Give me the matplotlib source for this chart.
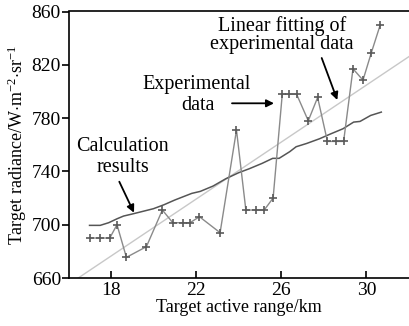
import matplotlib
matplotlib.use("Agg")
import matplotlib.pyplot as plt
import numpy as np

plt.rcParams['font.family'] = ['Liberation Serif', 'DejaVu Serif']
plt.rcParams['mathtext.fontset'] = 'custom'
plt.rcParams['mathtext.rm'] = 'Liberation Serif'
plt.rcParams['mathtext.it'] = 'Liberation Serif:italic'

# Experimental data
exp_range = [17.02, 17.49, 17.95, 18.29, 18.73, 19.67, 20.42, 20.91, 21.38, 21.72,
             22.16, 23.13, 23.90, 24.34, 24.81, 25.20, 25.62, 26.05, 26.36, 26.72,
             27.27, 27.71, 28.17, 28.55, 28.93, 29.37, 29.84, 30.23, 30.65]
exp_rad = [690, 690, 690, 700, 675.5, 683.5, 711, 701.5, 701.5, 701.5,
           706, 694, 771, 711, 711, 711, 720, 798, 798, 798,
           778, 795.5, 762.5, 762.5, 762.5, 817, 808.5, 829, 850]

# Calculation results
calc_range = [17.0, 17.5, 17.9, 18.3, 18.6, 19.0, 19.5, 20.0, 20.5, 21.0, 21.4, 21.8,
              22.2, 22.8, 23.4, 24.0, 24.5, 25.1, 25.6, 25.9, 26.4, 26.7, 27.2, 27.8,
              28.3, 28.9, 29.4, 29.7, 30.2, 30.7]
calc_rad = [699.5, 699.5, 701.5, 704.5, 706.5, 708, 710, 712, 715, 718.5, 721, 723.5,
            725, 729, 734.5, 739, 742, 746, 749.8, 749.8, 754.8, 758.5, 761, 764.5,
            768, 772, 777, 777.5, 782, 784.5]

# Linear fitting line (slope, intercept)
fit_slope = 10.7
fit_intercept = 660 - 10.7 * 16.47
fit_range = [16.0, 32.0]

xticks = [18, 22, 26, 30]
yticks = [660, 700, 740, 780, 820, 860]

W, H = 409, 326
fig = plt.figure(figsize=(W / 100, H / 100), dpi=100)
ax = fig.add_axes([69.3 / W, 1 - 278 / H, (409 - 69.3) / W, (278 - 11.5) / H])

fx = np.array(fit_range)
ax.plot(fx, fit_slope * fx + fit_intercept, color='#c8c8c8', lw=1.0, zorder=1)
ax.plot(calc_range, calc_rad, color='#555555', lw=1.1, zorder=2)
ax.plot(exp_range, exp_rad, color='#8a8a8a', lw=1.0, marker='+', ms=5.5,
        mew=1.2, mec='#5a5a5a', zorder=3)

ax.set_xlim(16.05, 32.0)
ax.set_ylim(660, 860)
ax.set_xticks(xticks)
ax.set_yticks(yticks)
ax.spines['right'].set_visible(False)
for s in ax.spines.values():
    s.set_linewidth(1.2)
ax.tick_params(axis='x', direction='in', length=5, width=1.2, labelsize=14, pad=3)
ax.tick_params(axis='y', direction='out', length=5, width=1.2, labelsize=14, pad=1)

ax.set_xlabel('Target active range/km', fontsize=13, labelpad=0)
ax.set_ylabel('Target radiance/W$\\cdot$m$^{-2}$$\\cdot$sr$^{-1}$', fontsize=13, labelpad=2)

def px(x, y):
    return fig.transFigure.inverted().transform((x, H - y))

tf = fig.transFigure
fig.text(*px(282, 26), 'Linear fitting of', ha='center', va='center', fontsize=14.5)
fig.text(*px(282, 45), 'experimental data', ha='center', va='center', fontsize=14.5)
fig.text(*px(197, 85), 'Experimental', ha='center', va='center', fontsize=14.5)
fig.text(*px(198, 106), 'data', ha='center', va='center', fontsize=14.5)
fig.text(*px(122, 147), 'Calculation', ha='center', va='center', fontsize=14.5)
fig.text(*px(122.5, 167), 'results', ha='center', va='center', fontsize=14.5)

arrows = [((321.7, 58), (337.3, 100)), ((232, 103.3), (274, 103.3)), ((119.3, 181.7), (134, 212.7))]
for (x0, y0), (x1, y1) in arrows:
    ax.annotate('', xy=px(x1, y1), xycoords=tf, xytext=px(x0, y0), textcoords=tf,
                arrowprops=dict(arrowstyle='-|>', color='black', lw=1.3,
                                mutation_scale=11, shrinkA=0, shrinkB=0))

fig.savefig('out.png', dpi=100)
